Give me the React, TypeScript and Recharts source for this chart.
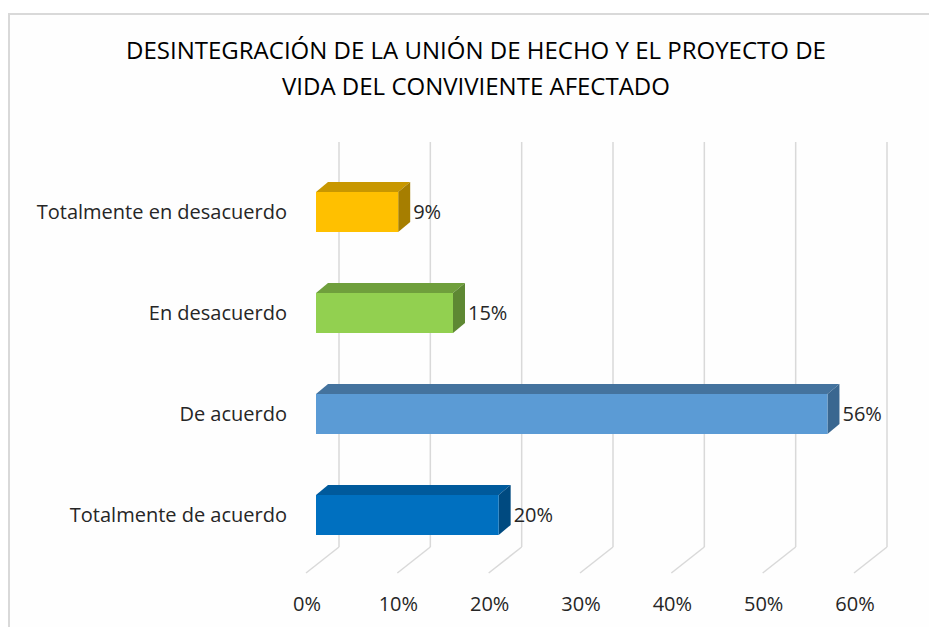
import { Bar, BarChart, CartesianGrid, LabelList, XAxis, YAxis } from "recharts";

const categories = [
  "Totalmente en desacuerdo",
  "En desacuerdo",
  "De acuerdo",
  "Totalmente de acuerdo",
];
const percents = [9, 15, 56, 20];
const xTicks = [0, 10, 20, 30, 40, 50, 60];

const frontColors = ["#FFC000", "#92D050", "#5B9BD5", "#0070C0"];
const topColors = ["#C89700", "#6F9F3C", "#44739E", "#005A9C"];
const sideColors = ["#A67E00", "#5E8833", "#3A6790", "#004A80"];

const data = categories.map((name, i) => ({ name, value: percents[i] }));

const FONT = "'Open Sans', sans-serif";
const TEXT = "#262626";
const DX = 12;
const DY = 10;

function Prism(props: any) {
  const { x, y, width, height, index } = props;
  if (width == null || height == null) return null;
  const r = x + width;
  const b = y + height;
  return (
    <g>
      <polygon
        points={`${x},${y} ${x + DX},${y - DY} ${r + DX},${y - DY} ${r},${y}`}
        fill={topColors[index]}
      />
      <polygon
        points={`${r},${y} ${r + DX},${y - DY} ${r + DX},${b - DY} ${r},${b}`}
        fill={sideColors[index]}
      />
      <rect x={x} y={y} width={width} height={height} fill={frontColors[index]} />
    </g>
  );
}

function GridLine(props: any) {
  const { x1, y1, y2 } = props;
  const bx = x1 + 23;
  return (
    <g key={props.key ?? `g-${x1}`}>
      <line x1={bx} y1={y1 - 19} x2={bx} y2={y2 - 18} stroke="#d9d9d9" strokeWidth={1.5} />
      <line x1={bx} y1={y2 - 18} x2={x1 - 10} y2={y2 + 8} stroke="#d9d9d9" strokeWidth={1.5} />
    </g>
  );
}

function XTick(props: any) {
  const { x, payload } = props;
  return (
    <text x={x - 9} y={611} textAnchor="middle" fill={TEXT} fontSize={20} fontFamily={FONT}>
      {`${payload.value}%`}
    </text>
  );
}

export default function App() {
  return (
    <div
      style={{
        position: "absolute",
        left: 0,
        top: 0,
        width: 929,
        height: 627,
        background: "#ffffff",
        overflow: "hidden",
      }}
    >
      <div
        style={{
          position: "absolute",
          left: 8,
          top: 13,
          width: 1000,
          height: 700,
          borderTop: "2px solid #d9d9d9",
          borderLeft: "2px solid #d9d9d9",
          background: "#fefefe",
        }}
      />
      <div
        style={{
          position: "absolute",
          left: 0,
          top: 32,
          width: 952,
          textAlign: "center",
          fontFamily: FONT,
          fontSize: 24,
          lineHeight: "36px",
          color: "#000000",
        }}
      >
        DESINTEGRACIÓN DE LA UNIÓN DE HECHO Y EL PROYECTO DE
        <br />
        VIDA DEL CONVIVIENTE AFECTADO
      </div>
      <div style={{ position: "absolute", left: 0, top: 0 }}>
        <BarChart
          width={929}
          height={627}
          data={data}
          layout="vertical"
          margin={{ top: 161, right: 65, bottom: 0, left: 0 }}
          barSize={40}
        >
          <CartesianGrid horizontal={false} vertical={GridLine} />
          <XAxis
            type="number"
            domain={[0, 60]}
            ticks={xTicks}
            axisLine={false}
            tickLine={false}
            tick={XTick}
            height={62}
          />
          <YAxis
            type="category"
            dataKey="name"
            width={316}
            axisLine={false}
            tickLine={false}
            tickSize={0}
            tickMargin={29}
            tick={{ fill: TEXT, fontSize: 20, fontFamily: FONT }}
          />
          <Bar dataKey="value" shape={Prism} isAnimationActive={false}>
            <LabelList
              dataKey="value"
              position="right"
              offset={15}
              formatter={(v: any) => `${v}%`}
              fill={TEXT}
              fontSize={20}
              fontFamily={FONT}
            />
          </Bar>
        </BarChart>
      </div>
    </div>
  );
}
